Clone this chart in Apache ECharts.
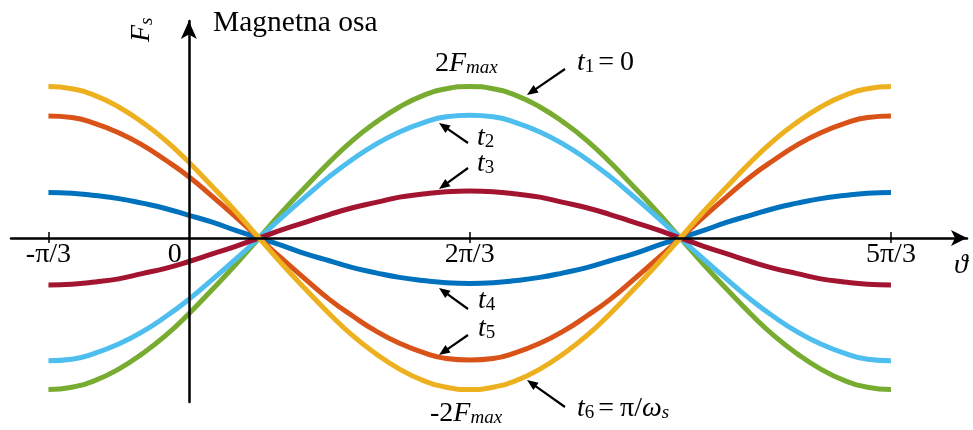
<!DOCTYPE html>
<html>
<head>
<meta charset="utf-8">
<script src="https://cdn.jsdelivr.net/npm/echarts@6/dist/echarts.min.js"></script>
<style>
  html, body { margin: 0; padding: 0; background: #fff; }
  #c { width: 973px; height: 430px; }
</style>
</head>
<body>
<div id="c"></div>
<script>
// Electrical angle ϑ in degrees, sampled every 10°
const angles = [-60, -50, -40, -30, -20, -10, 0, 10, 20, 30, 40, 50, 60, 70, 80, 90, 100, 110, 120,
                130, 140, 150, 160, 170, 180, 190, 200, 210, 220, 230, 240, 250, 260, 270, 280, 290, 300];

// Stator MMF F_s (in units of F_max) at six instants t1 … t6
const t1 = [-2.00, -1.97, -1.88, -1.73, -1.53, -1.29, -1.00, -0.68, -0.35, 0.00, 0.35, 0.68, 1.00,
             1.29, 1.53, 1.73, 1.88, 1.97, 2.00, 1.97, 1.88, 1.73, 1.53, 1.29, 1.00, 0.68, 0.35,
             0.00, -0.35, -0.68, -1.00, -1.29, -1.53, -1.73, -1.88, -1.97, -2.00];
const t2 = [-1.62, -1.60, -1.52, -1.40, -1.24, -1.04, -0.81, -0.55, -0.28, 0.00, 0.28, 0.55, 0.81,
             1.04, 1.24, 1.40, 1.52, 1.60, 1.62, 1.60, 1.52, 1.40, 1.24, 1.04, 0.81, 0.55, 0.28,
             0.00, -0.28, -0.55, -0.81, -1.04, -1.24, -1.40, -1.52, -1.60, -1.62];
const t3 = [-0.62, -0.61, -0.58, -0.54, -0.47, -0.40, -0.31, -0.21, -0.11, 0.00, 0.11, 0.21, 0.31,
             0.40, 0.47, 0.54, 0.58, 0.61, 0.62, 0.61, 0.58, 0.54, 0.47, 0.40, 0.31, 0.21, 0.11,
             0.00, -0.11, -0.21, -0.31, -0.40, -0.47, -0.54, -0.58, -0.61, -0.62];
const t4 = [0.60, 0.59, 0.56, 0.52, 0.46, 0.39, 0.30, 0.21, 0.10, 0.00, -0.10, -0.21, -0.30,
            -0.39, -0.46, -0.52, -0.56, -0.59, -0.60, -0.59, -0.56, -0.52, -0.46, -0.39, -0.30, -0.21, -0.10,
             0.00, 0.10, 0.21, 0.30, 0.39, 0.46, 0.52, 0.56, 0.59, 0.60];
const t5 = [1.61, 1.59, 1.51, 1.39, 1.23, 1.03, 0.81, 0.55, 0.28, 0.00, -0.28, -0.55, -0.81,
            -1.03, -1.23, -1.39, -1.51, -1.59, -1.61, -1.59, -1.51, -1.39, -1.23, -1.03, -0.81, -0.55, -0.28,
             0.00, 0.28, 0.55, 0.81, 1.03, 1.23, 1.39, 1.51, 1.59, 1.61];
const t6 = [2.00, 1.97, 1.88, 1.73, 1.53, 1.29, 1.00, 0.68, 0.35, 0.00, -0.35, -0.68, -1.00,
            -1.29, -1.53, -1.73, -1.88, -1.97, -2.00, -1.97, -1.88, -1.73, -1.53, -1.29, -1.00, -0.68, -0.35,
             0.00, 0.35, 0.68, 1.00, 1.29, 1.53, 1.73, 1.88, 1.97, 2.00];

// Axis tick positions and labels
const tickValues = [-60, 120, 300];
const labelValues = [-60, 0, 120, 300];
const tickLabels = { '-60': '-π/3', '0': '0', '120': '2π/3', '300': '5π/3' };

const seriesNames = ['t1', 't2', 't3', 't4', 't5', 't6'];
const seriesValues = [t1, t2, t3, t4, t5, t6];
const seriesColors = ['#77AC30', '#4DBEEE', '#A2142F', '#0072BD', '#D95319', '#EDB120'];

const serif = '"Liberation Serif", "Times New Roman", "DejaVu Serif", serif';

const X_MIN = -76, X_MAX = 332.5;
const Y_MIN = -2.165, Y_MAX = 2.865;

const chart = echarts.init(document.getElementById('c'));

// Rich-text styles for annotations with subscripts
const rich = {
  n:  { fontFamily: serif, fontSize: 28, lineHeight: 28, verticalAlign: 'bottom', color: '#000' },
  i:  { fontFamily: serif, fontSize: 28, lineHeight: 28, fontStyle: 'italic', verticalAlign: 'bottom', color: '#000' },
  s:  { fontFamily: serif, fontSize: 19, lineHeight: 12, verticalAlign: 'bottom', color: '#000' },
  si: { fontFamily: serif, fontSize: 19, lineHeight: 12, fontStyle: 'italic', verticalAlign: 'bottom', color: '#000' },
  e:  { fontFamily: serif, fontSize: 28, lineHeight: 28, verticalAlign: 'bottom', color: '#000', padding: [0, 6, 0, 4] },
  big: { fontFamily: serif, fontSize: 29.5, lineHeight: 29.5, verticalAlign: 'bottom', color: '#000' }
};

function label(x, y, text, extra) {
  return Object.assign({
    type: 'text', x: x, y: y, z: 100,
    style: { text: text, rich: rich, fill: '#000', align: 'left', verticalAlign: 'bottom',
             font: '28px ' + serif }
  }, extra || {});
}

// Annotation arrow: shaft plus filled triangular head pointing at (x2, y2)
function arrow(x1, y1, x2, y2) {
  const dx = x2 - x1, dy = y2 - y1, L = Math.hypot(dx, dy);
  const ux = dx / L, uy = dy / L, hl = 11, hw = 4.5;
  const bx = x2 - ux * hl, by = y2 - uy * hl;
  return [
    { type: 'line', z: 100, shape: { x1: x1, y1: y1, x2: bx + ux, y2: by + uy },
      style: { stroke: '#000', lineWidth: 2.2 } },
    { type: 'polygon', z: 100,
      shape: { points: [[x2, y2], [bx - uy * hw, by + ux * hw], [bx + uy * hw, by - ux * hw]] },
      style: { fill: '#000' } }
  ];
}

const graphics = [
  label(213, 38, '{big|Magnetna osa}'),
  label(435, 77.5, '{n|2}{i|F}{si|max}'),
  label(430, 427.5, '{n|-2}{i|F}{si|max}'),
  label(577, 76.5, '{i|t}{s|1}{e|=}{n|0}'),
  label(477, 151.5, '{i|t}{s|2}'),
  label(477, 177.5, '{i|t}{s|3}'),
  label(478, 314.5, '{i|t}{s|4}'),
  label(478, 342.5, '{i|t}{s|5}'),
  label(577, 422.5, '{i|t}{s|6}{e|=}{n|π/}{i|ω}{si|s}'),
  label(954, 279.5, '{i|ϑ}'),
  label(156, 42, '{i|F}{si|s}', { rotation: Math.PI / 2 })
]
  .concat(arrow(565, 69, 527, 95))
  .concat(arrow(468, 143, 439, 123))
  .concat(arrow(468, 168, 439, 189))
  .concat(arrow(468, 309, 439, 288))
  .concat(arrow(468, 335, 439, 355))
  .concat(arrow(565, 407, 527, 380));

const option = {
  backgroundColor: '#fff',
  animation: false,
  grid: [
    { left: 11, width: 956, top: 21, height: 381, outerBoundsMode: 'none', containLabel: false },
    { left: 11, width: 956, top: 21, height: 217, outerBoundsMode: 'none', containLabel: false }
  ],
  xAxis: [
    {
      type: 'value', gridIndex: 0, min: X_MIN, max: X_MAX, z: 10,
      axisLine: { show: true, onZero: true, symbol: ['none', 'arrow'], symbolSize: [12, 16],
                  lineStyle: { color: '#000', width: 2.5 } },
      axisTick: { show: true, inside: false, length: 5, customValues: tickValues,
                  lineStyle: { color: '#000', width: 1.5 } },
      axisLabel: { show: false },
      splitLine: { show: false }
    },
    {
      // upper half of the crossing tick marks and the angle labels
      type: 'value', gridIndex: 1, min: X_MIN, max: X_MAX, position: 'bottom', z: 10,
      axisLine: { show: false },
      axisTick: { show: true, inside: true, length: 6, customValues: tickValues,
                  lineStyle: { color: '#000', width: 1.5 } },
      axisLabel: {
        show: true, customValues: labelValues, margin: 3,
        fontFamily: serif, fontSize: 28, color: '#000',
        formatter: function (v) {
          return v === 0 ? '{z|0}' : tickLabels[String(v)];
        },
        rich: { z: { fontFamily: serif, fontSize: 28, color: '#000', padding: [0, 28, 0, 0] } }
      },
      splitLine: { show: false }
    }
  ],
  yAxis: [
    {
      type: 'value', gridIndex: 0, min: Y_MIN, max: Y_MAX, z: 10,
      axisLine: { show: true, onZero: true, symbol: ['none', 'arrow'], symbolSize: [12, 18],
                  lineStyle: { color: '#000', width: 2.5 } },
      axisTick: { show: false }, axisLabel: { show: false }, splitLine: { show: false }
    },
    {
      type: 'value', gridIndex: 1, min: 0, max: 1, show: false
    }
  ],
  series: seriesNames.map(function (name, k) {
    return {
      name: name, type: 'line', xAxisIndex: 0, yAxisIndex: 0,
      data: angles.map(function (a, i) { return [a, seriesValues[k][i]]; }),
      smooth: 0.5, showSymbol: false, symbol: 'none',
      lineStyle: { color: seriesColors[k], width: 5 },
      itemStyle: { color: seriesColors[k] },
      z: 2
    };
  }),
  graphic: graphics
};

chart.setOption(option);
</script>
</body>
</html>
